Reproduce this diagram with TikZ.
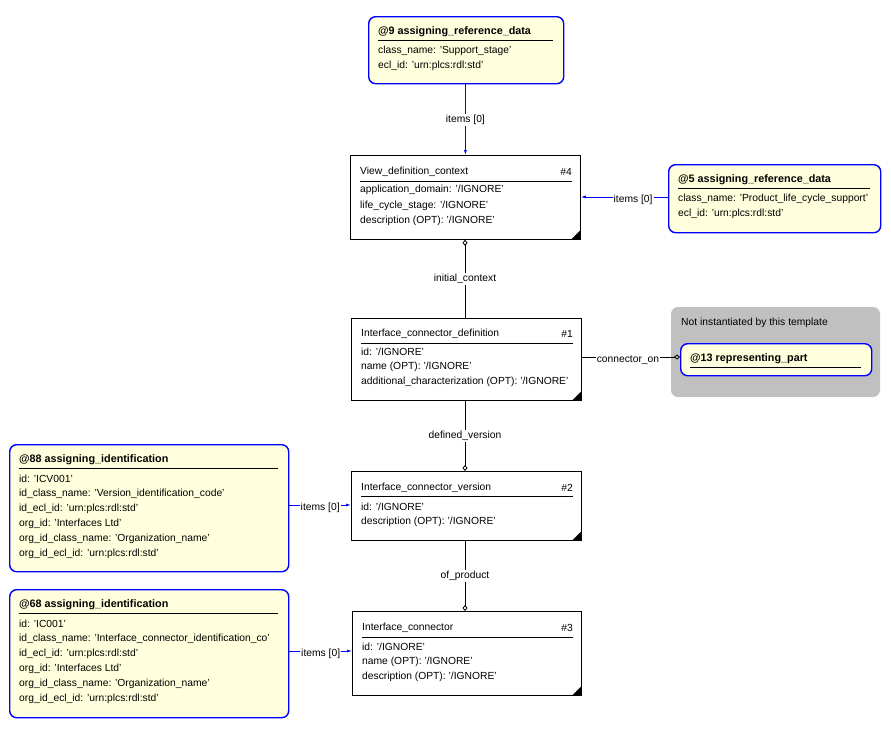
\documentclass[tikz,border=0pt]{standalone}
\usepackage{fontspec}
\setmainfont{Liberation Sans}
\usetikzlibrary{arrows.meta, positioning, calc}

\definecolor{refyellow}{RGB}{255,255,221}
\definecolor{refblue}{RGB}{0,0,255}
\definecolor{notgrey}{RGB}{192,192,192}

\tikzset{
  ent/.style={draw, thick, fill=white, inner sep=0pt},
  refbox/.style={draw=refblue, line width=1.4pt, rounded corners=7pt, fill=refyellow, inner sep=0pt},
  txt/.style={anchor=west, inner sep=0pt, font=\fontsize{10.3}{12}\selectfont},
  hd/.style={txt, font=\fontsize{10.8}{12}\selectfont\bfseries},
  lbl/.style={fill=white, inner sep=1pt, font=\fontsize{10.3}{12}\selectfont},
  rel/.style={draw, thick, {Diamond[open,length=6pt,width=5pt]}-},
  relto/.style={draw, thick, -{Diamond[open,length=6pt,width=5pt]}},
  items/.style={draw=refblue, thick, -{Latex[length=5pt,width=3pt]}},
}
\newcommand{\corner}[1]{\fill ($(#1.south east)+(-10,0)$) -- (#1.south east) -- ($(#1.south east)+(0,-10)$) -- cycle;}

\begin{document}
\begin{tikzpicture}[x=1pt,y=-1pt]
\useasboundingbox (0,0) rectangle (891,729);

% grey frame
\fill[notgrey, rounded corners=7pt] (671,307) rectangle (880,397);
\node[txt] (nit) at (681,323) {Not instantiated by this template};

% reference data boxes
\node[refbox, minimum width=195, minimum height=67, anchor=north west] (r9) at (368,16) {};
\node[hd] at (378,32) {@9 assigning\_reference\_data};
\draw (378,40) -- (553,40);
\node[txt] at (378,51) {class\_name: 'Support\_stage'};
\node[txt] at (378,66) {ecl\_id: 'urn:plcs:rdl:std'};

\node[refbox, minimum width=212, minimum height=68, anchor=north west] (r5) at (668,164) {};
\node[hd] at (678,180) {@5 assigning\_reference\_data};
\draw (678,188) -- (870,188);
\node[txt] at (678,199) {class\_name: 'Product\_life\_cycle\_support'};
\node[txt] at (678,214) {ecl\_id: 'urn:plcs:rdl:std'};

\node[refbox, minimum width=191, minimum height=32, anchor=north west] (r13) at (680,343) {};
\node[hd] at (690,359) {@13 representing\_part};
\draw (690,367) -- (861,367);

\node[refbox, minimum width=279, minimum height=127, anchor=north west] (r88) at (9,444) {};
\node[hd] at (19,460) {@88 assigning\_identification};
\draw (19,468) -- (278,468);
\foreach \t [count=\i] in {id: 'ICV001', id\_class\_name: 'Version\_identification\_code', id\_ecl\_id: 'urn:plcs:rdl:std', org\_id: 'Interfaces Ltd', org\_id\_class\_name: 'Organization\_name', org\_id\_ecl\_id: 'urn:plcs:rdl:std'}
  \node[txt] at (19,464+15*\i) {\t};

\node[refbox, minimum width=279, minimum height=128, anchor=north west] (r68) at (9,589) {};
\node[hd] at (19,605) {@68 assigning\_identification};
\draw (19,613) -- (278,613);
\foreach \t [count=\i] in {id: 'IC001', id\_class\_name: 'Interface\_connector\_identification\_co', id\_ecl\_id: 'urn:plcs:rdl:std', org\_id: 'Interfaces Ltd', org\_id\_class\_name: 'Organization\_name', org\_id\_ecl\_id: 'urn:plcs:rdl:std'}
  \node[txt] at (19,609+15*\i) {\t};

% entities
\node[ent, minimum width=230, minimum height=84, anchor=north west] (e4) at (350,155) {};
\node[txt] at (360,172) {View\_definition\_context};
\node[txt, anchor=east] at (572,172) {\#4};
\draw (360,181) -- (572,181);
\node[txt] at (360,190) {application\_domain: '/IGNORE'};
\node[txt] at (360,206) {life\_cycle\_stage: '/IGNORE'};
\node[txt] at (360,221) {description (OPT): '/IGNORE'};
\corner{e4}

\node[ent, minimum width=230, minimum height=82, anchor=north west] (e1) at (351,318) {};
\node[txt] at (361,334) {Interface\_connector\_definition};
\node[txt, anchor=east] at (573,334) {\#1};
\draw (361,343) -- (573,343);
\node[txt] at (361,352) {id: '/IGNORE'};
\node[txt] at (361,367) {name (OPT): '/IGNORE'};
\node[txt] at (361,382) {additional\_characterization (OPT): '/IGNORE'};
\corner{e1}

\node[ent, minimum width=230, minimum height=69, anchor=north west] (e2) at (351,471) {};
\node[txt] at (361,488) {Interface\_connector\_version};
\node[txt, anchor=east] at (573,488) {\#2};
\draw (361,496) -- (573,496);
\node[txt] at (361,507) {id: '/IGNORE'};
\node[txt] at (361,522) {description (OPT): '/IGNORE'};
\corner{e2}

\node[ent, minimum width=229, minimum height=84, anchor=north west] (e3) at (352,611) {};
\node[txt] at (362,628) {Interface\_connector};
\node[txt, anchor=east] at (573,628) {\#3};
\draw (362,637) -- (573,637);
\node[txt] at (362,647) {id: '/IGNORE'};
\node[txt] at (362,662) {name (OPT): '/IGNORE'};
\node[txt] at (362,677) {description (OPT): '/IGNORE'};
\corner{e3}

% connectors
\draw[items] (r9.south -| e4.north) -- node[lbl] {items [0]} (e4.north);
\draw[items] (r5.west |- 0,197) -- node[lbl, pos=0.4, yshift=-3] {items [0]} (e4.east |- 0,197);
\draw[rel] (e4.south -| 465,0) -- node[lbl] {initial\_context} (e1.north -| 465,0);
\draw[relto] (e1.east |- 0,357) -- node[lbl, pos=0.47, yshift=-3] {connector\_on} (r13.west |- 0,357);
\draw[relto] (e1.south -| 465,0) -- node[lbl] {defined\_version} (e2.north -| 465,0);
\draw[items] (r88.east |- 0,505) -- node[lbl, yshift=-3] {items [0]} (e2.west |- 0,505);
\draw[relto] (e2.south -| 465,0) -- node[lbl] {of\_product} (e3.north -| 465,0);
\draw[items] (r68.east |- 0,651) -- node[lbl, yshift=-3] {items [0]} (e3.west |- 0,651);
\end{tikzpicture}
\end{document}
